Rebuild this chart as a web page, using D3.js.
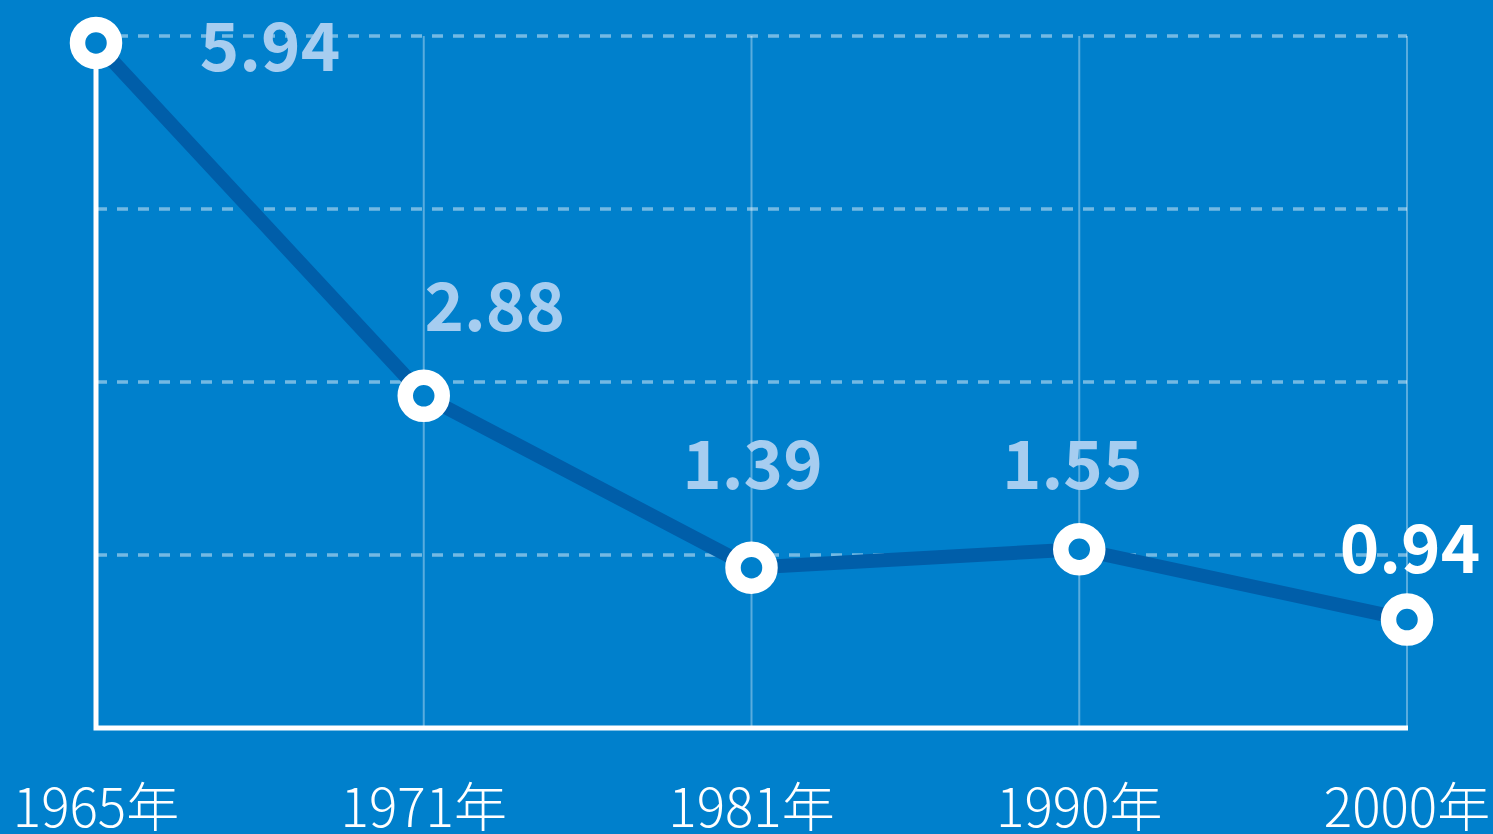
<!DOCTYPE html>
<html>
<head>
<meta charset="utf-8">
<script src="https://cdn.jsdelivr.net/npm/d3@7"></script>
<style>
  html, body { margin: 0; padding: 0; background: #0080cc; overflow: hidden; }
  svg { display: block; }
  .year-label { font-family: "Noto Sans CJK SC", "Noto Sans", sans-serif; font-weight: 300; fill: #fff; }
  .value-label { font-family: "Noto Sans CJK SC", "Noto Sans", sans-serif; font-weight: 700; }
</style>
</head>
<body>
<svg id="chart" width="1493" height="834"></svg>
<script>
const years = ["1965年", "1971年", "1981年", "1990年", "2000年"];
const rates = [5.94, 2.88, 1.39, 1.55, 0.94];
const yTicks = [1.5, 3, 4.5, 6];

// hand-placed label offsets (relative to each point)
const labelDx = [174, 71, 1, -7, 3];
const labelDy = [28, -65, -79, -60, -47];

const svg = d3.select("#chart");
const W = +svg.attr("width"), H = +svg.attr("height");
const margins = { top: 36, right: 86, bottom: 106, left: 96 };

svg.append("rect").attr("width", W).attr("height", H).attr("fill", "#0080cc");

const xScale = d3.scalePoint().domain(years).range([margins.left, W - margins.right]);
const yScale = d3.scaleLinear().domain([0, 6]).range([H - margins.bottom, margins.top]);

// vertical gridlines
svg.append("g")
  .selectAll("line")
  .data(years.slice(1))
  .join("line")
  .attr("x1", d => xScale(d)).attr("x2", d => xScale(d))
  .attr("y1", yScale(6)).attr("y2", yScale(0))
  .attr("stroke", "rgba(255,255,255,0.35)")
  .attr("stroke-width", 2);

// horizontal dashed gridlines
svg.append("g")
  .selectAll("line")
  .data(yTicks)
  .join("line")
  .attr("x1", margins.left).attr("x2", W - margins.right)
  .attr("y1", d => yScale(d)).attr("y2", d => yScale(d))
  .attr("stroke", "rgba(255,255,255,0.45)")
  .attr("stroke-width", 3.5)
  .attr("stroke-dasharray", "11 10");

// axes (L shape)
svg.append("path")
  .attr("d", `M${margins.left},${yScale(6) + 5}V${yScale(0)}H${W - margins.right + 1}`)
  .attr("fill", "none")
  .attr("stroke", "#fff")
  .attr("stroke-width", 5);

// year labels
svg.append("g")
  .selectAll("text")
  .data(years)
  .join("text")
  .attr("class", "year-label")
  .attr("x", d => xScale(d))
  .attr("y", 827)
  .attr("text-anchor", "middle")
  .attr("font-size", 53)
  .text(d => d);

const points = years.map((y, i) => ({ year: y, value: rates[i], i }));

// line
const line = d3.line().x(d => xScale(d.year)).y(d => yScale(d.value));
svg.append("path")
  .datum(points)
  .attr("d", line)
  .attr("fill", "none")
  .attr("stroke", "#005ea9")
  .attr("stroke-width", 14)
  .attr("stroke-linejoin", "round");

// markers
svg.append("g")
  .selectAll("circle")
  .data(points)
  .join("circle")
  .attr("cx", d => xScale(d.year))
  .attr("cy", d => yScale(d.value))
  .attr("r", 18.5)
  .attr("fill", "#0080cc")
  .attr("stroke", "#fff")
  .attr("stroke-width", 15.5);

// value labels
svg.append("g")
  .selectAll("text")
  .data(points)
  .join("text")
  .attr("class", "value-label")
  .attr("x", d => xScale(d.year) + labelDx[d.i])
  .attr("y", d => yScale(d.value) + labelDy[d.i])
  .attr("text-anchor", "middle")
  .attr("font-size", 67)
  .attr("fill", d => d.i === points.length - 1 ? "#ffffff" : "#a6cdf0")
  .text(d => d.value.toFixed(2));
</script>
</body>
</html>
